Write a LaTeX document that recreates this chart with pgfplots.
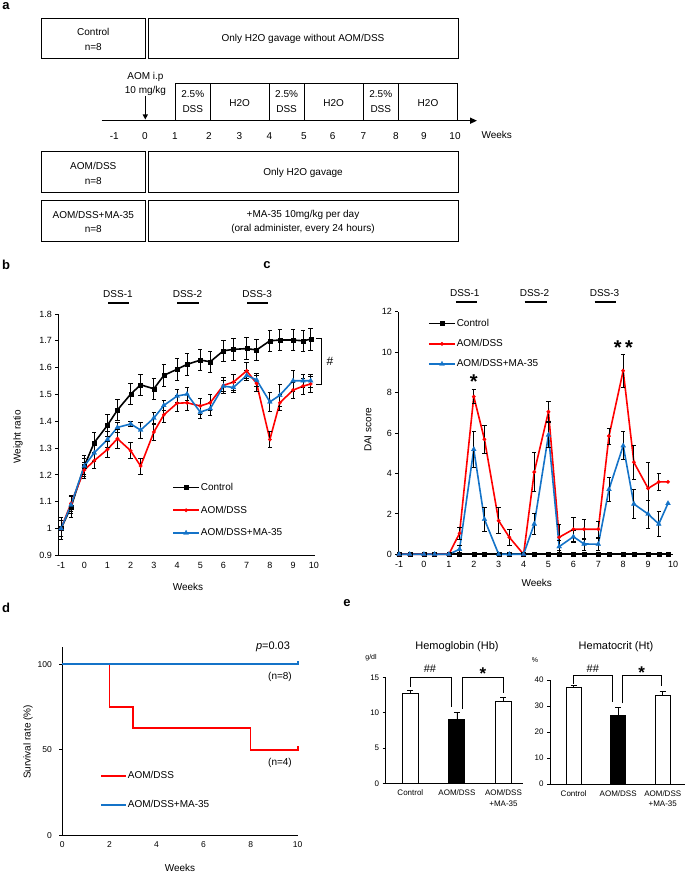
\documentclass[border=0pt]{standalone}
\usepackage{pgfplots}
\pgfplotsset{compat=1.18}
\usepackage{pgfplotstable}
\usepackage{fontspec}
\setmainfont{Liberation Sans}
\usetikzlibrary{arrows.meta}
\definecolor{aomred}{RGB}{255,0,0}
\definecolor{mablue}{RGB}{20,115,200}
\newcommand{\fs}[1]{\fontsize{#1}{#1}\selectfont}

% weight ratio (panel b): x = week, y = mean, e = error
\pgfplotstableread{
x y e
-1 1.000 0.04
-0.571 1.080 0.04
0 1.233 0.04
0.429 1.320 0.04
1 1.385 0.04
1.429 1.442 0.04
2 1.501 0.04
2.429 1.536 0.04
3 1.521 0.04
3.429 1.571 0.04
4 1.594 0.04
4.429 1.612 0.04
5 1.628 0.04
5.429 1.622 0.04
6 1.663 0.04
6.429 1.668 0.04
7 1.671 0.04
7.429 1.666 0.04
8 1.700 0.04
8.429 1.703 0.04
9 1.703 0.04
9.429 1.700 0.04
9.76 1.706 0.04
}\wctrl
\pgfplotstableread{
x y e
-1 1.000 0.03
-0.571 1.094 0.03
0 1.218 0.03
0.429 1.253 0.03
1 1.295 0.03
1.429 1.335 0.035
2 1.290 0.03
2.429 1.233 0.03
3 1.360 0.03
3.429 1.424 0.03
4 1.467 0.03
4.429 1.469 0.03
5 1.457 0.03
5.429 1.469 0.03
6 1.534 0.03
6.429 1.546 0.03
7 1.588 0.03
7.429 1.541 0.03
8 1.332 0.03
8.429 1.469 0.03
9 1.516 0.03
9.429 1.531 0.03
9.76 1.539 0.03
}\waom
\pgfplotstableread{
x y e
-1 1.000 0.03
-0.571 1.088 0.03
0 1.233 0.03
0.429 1.282 0.03
1 1.332 0.03
1.429 1.377 0.02
2 1.390 0.01
2.429 1.367 0.03
3 1.412 0.02
3.429 1.459 0.02
4 1.494 0.025
4.429 1.501 0.025
5 1.434 0.025
5.429 1.447 0.025
6 1.531 0.02
6.429 1.526 0.02
7 1.571 0.02
7.429 1.554 0.025
8 1.472 0.035
8.429 1.497 0.04
9 1.551 0.04
9.429 1.551 0.025
9.76 1.551 0.025
}\wma

% DAI score (panel c)
\pgfplotstableread{
x y e
-1 0 0
-0.571 0 0
0 0 0
0.429 0 0
1 0 0
1.429 0 0
2 0 0
2.429 0 0
3 0 0
3.429 0 0
4 0 0
4.429 0 0
5 0 0
5.429 0 0
6 0 0
6.429 0 0
7 0 0
7.429 0 0
8 0 0
8.429 0 0
9 0 0
9.429 0 0
9.8 0 0
}\dctrl
\pgfplotstableread{
x y e
-1 0 0
-0.571 0 0
0 0 0
0.429 0 0
1 0 0
1.429 1.04 0.3
2 7.80 0.35
2.429 5.69 0.7
3 1.66 0.65
3.429 0.84 0.4
4 0 0
4.429 4.07 0.95
5 7.05 0.5
5.429 0.84 0.65
6 1.24 0.6
6.429 1.24 0.5
7 1.24 0.4
7.429 5.85 0.4
8 9.08 0.8
8.429 4.55 0.85
9 3.26 1.3
9.429 3.58 0.4
9.8 3.58 0
}\daom
\pgfplotstableread{
x y e
-1 0 0
-0.571 0 0
0 0 0
0.429 0 0
1 0 0
1.429 0.25 0.2
2 5.19 0.9
2.429 1.73 0.6
3 0 0
3.429 0 0
4 0 0
4.429 1.50 0.5
5 5.90 0.6
5.429 0.38 0.3
6 0.87 0.3
6.429 0.51 0.3
7 0.50 0.3
7.429 3.21 0.6
8 5.37 0.7
8.429 2.49 0.7
9 1.99 0.7
9.429 1.50 0.6
9.8 2.52 0
}\dma

\pgfplotsset{
  myax/.style={scale only axis, anchor=south west, axis lines=left,
    axis line style={-, line width=0.8pt},
    tick style={black, line width=0.8pt}, tick align=outside, major tick length=3pt,
    xtick style={draw=none}, clip=false,
    /pgf/number format/assume math mode=true,
    tick label style={font=\fs{9}}},
  errb/.style={draw=none, mark=none, forget plot,
    error bars/.cd, y dir=both, y explicit,
    error bar style={draw=black, line width=0.8pt},
    error mark options={draw=black, rotate=90, mark size=2.2pt, line width=0.8pt},
    /pgfplots/.cd},
  ln/.style={line width=1.6pt, mark options={line width=0.3pt}},
  leg/.style={legend style={draw=none, fill=none, inner sep=0pt, font=\fs{10},
    nodes={inner sep=1pt, anchor=west}, row sep=#1},
    legend image code/.code={\draw[mark repeat=2, mark phase=2, ##1] plot coordinates {(0pt,0pt) (13pt,0pt) (26pt,0pt)};}},
}

\begin{document}
\begin{tikzpicture}[x=1pt,y=1pt]
\path[use as bounding box] (0,0) rectangle (685,873);

% panel a
\begin{scope}[shift={(0,873)}, yscale=-1, every node/.style={font=\fontsize{10}{14.5}\selectfont, align=center}]
  \draw[line width=0.8pt] (41.7,18.3) rectangle (145,58.3);
  \draw[line width=0.8pt] (148.3,18.3) rectangle (458.3,58.3);
  \node at (93.3,39.3) {Control\\n=8};
  \node at (303,39.3) {Only H2O gavage without AOM/DSS};
  \node at (145.5,83.8) {AOM i.p\\10 mg/kg};
  \draw[line width=1.2pt, -{Triangle[length=5pt, width=5pt]}] (145.3,96) -- (145.3,119.5);
  \draw[line width=0.8pt] (175.7,83.3) rectangle (210,120.7);
  \draw[line width=0.8pt] (210,83.3) rectangle (269.3,120.7);
  \draw[line width=0.8pt] (269.3,83.3) rectangle (304,120.7);
  \draw[line width=0.8pt] (304,83.3) rectangle (363.3,120.7);
  \draw[line width=0.8pt] (363.3,83.3) rectangle (398.3,120.7);
  \draw[line width=0.8pt] (398.3,83.3) rectangle (457.7,120.7);
  \node at (192.8,101.7) {2.5\%\\DSS};
  \node at (286.6,101.7) {2.5\%\\DSS};
  \node at (380.8,101.7) {2.5\%\\DSS};
  \node at (239.6,103.3) {H2O};
  \node at (333.6,103.3) {H2O};
  \node at (428,103.3) {H2O};
  \draw[line width=1.4pt, -{Triangle[length=7pt, width=6pt]}] (101.7,120.7) -- (477,120.7);
  \foreach \xx/\lab in {114.3/-1, 145/0, 175/1, 209/2, 239.3/3, 269.3/4, 304/5, 332.7/6, 363.3/7, 396/8, 424/9, 455/10}
    \node at (\xx,136) {\lab};
  \node at (496.7,135) {Weeks};
  \draw[line width=0.8pt] (41.7,151.7) rectangle (145,192.7);
  \draw[line width=0.8pt] (148.3,151.7) rectangle (458.3,192.7);
  \node at (93.3,173.3) {AOM/DSS\\n=8};
  \node at (303,173.3) {Only H2O gavage};
  \draw[line width=0.8pt] (41.7,200) rectangle (145,241.7);
  \draw[line width=0.8pt] (148.3,200) rectangle (458.3,241.7);
  \node at (93.3,221.7) {AOM/DSS+MA-35\\n=8};
  \node at (303,221.7) {+MA-35 10mg/kg per day\\(oral administer, every 24 hours)};
\end{scope}

% panel labels
\node[font=\bfseries\fs{13}] at (6,867) {a};
\node[font=\bfseries\fs{13}] at (6,608) {b};
\node[font=\bfseries\fs{13}] at (267,608) {c};
\node[font=\bfseries\fs{13}] at (6,265) {d};
\node[font=\bfseries\fs{13}] at (347,270) {e};

% panel b
\begin{axis}[myax, at={(58.3pt,317.7pt)}, width=256.8pt, height=241.3pt,
  xmin=-1.12, xmax=9.95, ymin=0.9, ymax=1.8,
  xtick={-1,0,1,2,3,4,5,6,7,8,9,9.9}, xticklabels={-1,0,1,2,3,4,5,6,7,8,9,10},
  ytick={0.9,1,1.1,1.2,1.3,1.4,1.5,1.6,1.7,1.8},
  yticklabels={0.9,1,1.1,1.2,1.3,1.4,1.5,1.6,1.7,1.8},
  leg=12pt, legend style={at={(axis description cs:0.443,0.304)}, anchor=north west}]
  \addplot[ln, black, mark=square*, mark size=2pt] table[x=x, y=y] {\wctrl};
  \addplot[ln, aomred, mark=*, mark size=1.8pt] table[x=x, y=y] {\waom};
  \addplot[ln, mablue, mark=triangle*, mark size=2.8pt] table[x=x, y=y] {\wma};
  \legend{Control, AOM/DSS, AOM/DSS+MA-35}
  \addplot[errb] table[x=x, y=y, y error=e] {\wctrl};
  \addplot[errb] table[x=x, y=y, y error=e] {\waom};
  \addplot[errb] table[x=x, y=y, y error=e] {\wma};
  \draw[line width=2.5pt] (axis cs:1.03,1.841) -- (axis cs:1.94,1.841);
  \draw[line width=2.5pt] (axis cs:4.0,1.841) -- (axis cs:4.95,1.841);
  \draw[line width=2.5pt] (axis cs:7.02,1.841) -- (axis cs:7.92,1.841);
  \node[font=\fs{10}] at (axis cs:1.45,1.875) {DSS-1};
  \node[font=\fs{10}] at (axis cs:4.45,1.875) {DSS-2};
  \node[font=\fs{10}] at (axis cs:7.45,1.875) {DSS-3};
\end{axis}
\node[font=\fs{10}, rotate=90] at (18,436) {Weight ratio};
\node[font=\fs{10}] at (188,286) {Weeks};
\draw[line width=0.8pt] (316,535) -- (321,535) -- (321,489) -- (316,489);
\node[font=\fs{12}] at (330,512) {\#};

% panel c
\begin{axis}[myax, at={(398.3pt,318.7pt)}, width=274.7pt, height=242.6pt,
  xmin=-1.03, xmax=10, ymin=0, ymax=12,
  xtick={-1,0,...,10}, ytick={0,2,...,12},
  leg=9.5pt, legend style={at={(axis description cs:0.108,0.974)}, anchor=north west}]
  \addplot[ln, black, mark=square*, mark size=2pt] table[x=x, y=y] {\dctrl};
  \addplot[ln, aomred, mark=*, mark size=1.8pt] table[x=x, y=y] {\daom};
  \addplot[ln, mablue, mark=triangle*, mark size=2.8pt] table[x=x, y=y] {\dma};
  \legend{Control, AOM/DSS, AOM/DSS+MA-35}
  \addplot[restrict expr to domain={\thisrow{e}}{0.01:10}, errb] table[x=x, y=y, y error=e] {\daom};
  \addplot[restrict expr to domain={\thisrow{e}}{0.01:10}, errb] table[x=x, y=y, y error=e] {\dma};
  \draw[line width=2.5pt] (axis cs:1.28,12.48) -- (axis cs:2.12,12.48);
  \draw[line width=2.5pt] (axis cs:4.04,12.48) -- (axis cs:4.93,12.48);
  \draw[line width=2.5pt] (axis cs:6.85,12.48) -- (axis cs:7.73,12.48);
  \node[font=\fs{10}] at (axis cs:1.64,12.92) {DSS-1};
  \node[font=\fs{10}] at (axis cs:4.44,12.92) {DSS-2};
  \node[font=\fs{10}] at (axis cs:7.25,12.92) {DSS-3};
  \node[font=\bfseries\fs{20}, yshift=-4pt] at (axis cs:2.0,8.73) {*};
  \node[font=\bfseries\fs{20}, yshift=-4pt] at (axis cs:8.01,10.4) {*\,*};
\end{axis}
\node[font=\fs{10}, rotate=90] at (368,443) {DAI score};
\node[font=\fs{10}] at (536.7,290) {Weeks};

% panel d
\begin{axis}[myax, at={(62.3pt,37.7pt)}, width=235.4pt, height=188.3pt,
  xmin=0, xmax=10, ymin=0, ymax=110,
  xtick={0,2,...,10}, ytick={0,50,100}, tick label style={font=\fs{8.5}},
  yticklabel style={xshift=-4pt},
  legend style={draw=none, fill=none, inner sep=0pt, font=\fs{10},
    nodes={inner sep=1pt, anchor=west}, row sep=18pt,
    at={(axis description cs:0.16,0.345)}, anchor=north west},
  legend image code/.code={\draw[#1] (0pt,0pt) -- (25pt,0pt);}]
  \addplot[aomred, line width=1.7pt] coordinates {(0,100) (2,100) (2,75) (3,75) (3,62.5) (8,62.5) (8,50) (10,50) (10,52)};
  \addplot[mablue, line width=1.7pt] coordinates {(0,100) (10,100) (10,102)};
  \legend{AOM/DSS, AOM/DSS+MA-35}
\end{axis}
\node[font=\fs{10}, rotate=90] at (28,131) {Survival rate (\%)};
\node[font=\fs{10}] at (180,5) {Weeks};
\node[font=\fs{11}] at (273,226) {\textit{p}=0.03};
\node[font=\fs{10}] at (280,196) {(n=8)};
\node[font=\fs{10}] at (280,110) {(n=4)};

% panel e, hemoglobin
\begin{axis}[myax, at={(385.7pt,89.7pt)}, width=137.3pt, height=106pt,
  xmin=-0.53, xmax=2.42, ymin=0, ymax=15,
  xtick={0,1,2}, xticklabels={Control, AOM/DSS, {AOM/DSS\\+MA-35}},
  xticklabel style={align=center, font=\fontsize{8}{10.5}\selectfont},
  ytick={0,5,10,15}, yticklabel style={font=\fs{8}}]
  \addplot[ybar, bar width=16pt, bar shift=0pt, fill=white, draw=black, line width=0.9pt,
    error bars/.cd, y dir=plus, y explicit, error bar style={black, line width=0.8pt},
    error mark options={black, rotate=90, mark size=3pt, line width=0.8pt}]
    coordinates {(0,12.73) +- (0,0.37) (2,11.64) +- (0,0.5)};
  \addplot[ybar, bar width=16pt, bar shift=0pt, fill=black, draw=black, line width=0.9pt,
    error bars/.cd, y dir=plus, y explicit, error bar style={black, line width=0.8pt},
    error mark options={black, rotate=90, mark size=3pt, line width=0.8pt}]
    coordinates {(1,9.05) +- (0,1.0)};
  \draw[line width=0.8pt] (axis cs:0,13.66) -- (axis cs:0,15) -- (axis cs:0.875,15) -- (axis cs:0.875,10.83);
  \draw[line width=0.8pt] (axis cs:1.12,10.5) -- (axis cs:1.12,15) -- (axis cs:2,15) -- (axis cs:2,12.73);
  \node[font=\fs{11}] at (axis cs:0.42,16.2) {\#\#};
  \node[font=\bfseries\fs{17}, yshift=-3pt] at (axis cs:1.56,16.0) {*};
\end{axis}
\node[font=\fs{11}] at (457,226) {Hemoglobin (Hb)};
\node[font=\fs{7}] at (371,215) {g/dl};

% panel e, hematocrit
\begin{axis}[myax, at={(550pt,89pt)}, width=135pt, height=104pt,
  xmin=-0.53, xmax=2.5, ymin=0, ymax=40,
  xtick={0,1,2}, xticklabels={Control, AOM/DSS, {AOM/DSS\\+MA-35}},
  xticklabel style={align=center, font=\fontsize{8}{10.5}\selectfont},
  ytick={0,10,...,40}, yticklabel style={font=\fs{8}}]
  \addplot[ybar, bar width=15pt, bar shift=0pt, fill=white, draw=black, line width=0.9pt,
    error bars/.cd, y dir=plus, y explicit, error bar style={black, line width=0.8pt},
    error mark options={black, rotate=90, mark size=3pt, line width=0.8pt}]
    coordinates {(0,37.0) +- (0,1.0) (2,34.2) +- (0,1.3)};
  \addplot[ybar, bar width=15pt, bar shift=0pt, fill=black, draw=black, line width=0.9pt,
    error bars/.cd, y dir=plus, y explicit, error bar style={black, line width=0.8pt},
    error mark options={black, rotate=90, mark size=3pt, line width=0.8pt}]
    coordinates {(1,26.5) +- (0,2.8)};
  \draw[line width=0.8pt] (axis cs:0,38.5) -- (axis cs:0,41.9) -- (axis cs:0.87,41.9) -- (axis cs:0.87,31.65);
  \draw[line width=0.8pt] (axis cs:1.1,31.0) -- (axis cs:1.1,41.9) -- (axis cs:1.98,41.9) -- (axis cs:1.98,37.7);
  \node[font=\fs{11}] at (axis cs:0.43,44.2) {\#\#};
  \node[font=\bfseries\fs{17}, yshift=-3pt] at (axis cs:1.53,43.8) {*};
\end{axis}
\node[font=\fs{11}] at (616,226) {Hematocrit (Ht)};
\node[font=\fs{7}] at (535,213) {\%};
\end{tikzpicture}
\end{document}
